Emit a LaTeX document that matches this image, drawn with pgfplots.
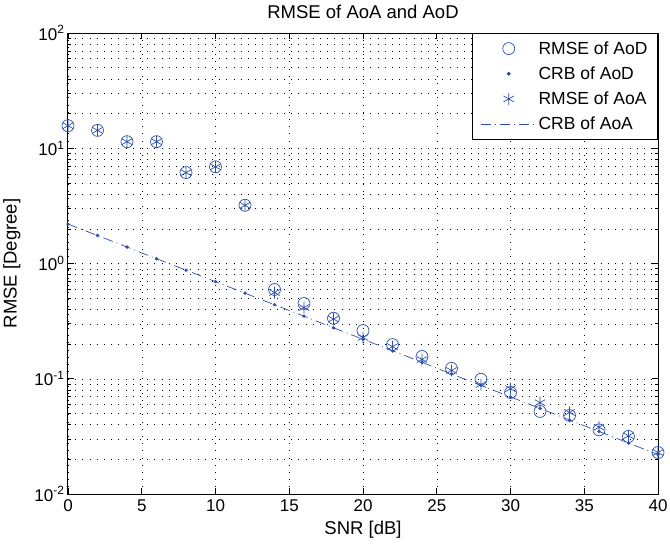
\documentclass[border=0pt]{standalone}
\usepackage{fontspec}
\setmainfont{Liberation Sans}
\usepackage{pgfplots}
\pgfplotsset{compat=1.18}
\usepackage{pgfplotstable}

\definecolor{mblue}{RGB}{45,80,170}

% SNR, AoD RMSE, AoA RMSE, CRB
\pgfplotstableread{
snr  aod    aoa    crb
0    15.7   15.7   2.20
2    14.3   14.3   1.75
4    11.4   11.4   1.39
6    11.4   11.4   1.10
8    6.15   6.15   0.876
10   6.9    6.9    0.696
12   3.2    3.2    0.553
14   0.595  0.56   0.439
16   0.45   0.415  0.349
18   0.335  0.33   0.277
20   0.262  0.228  0.220
22   0.198  0.19   0.175
24   0.156  0.147  0.139
26   0.123  0.118  0.110
28   0.099  0.089  0.0876
30   0.076  0.082  0.0696
32   0.052  0.062  0.0553
34   0.048  0.051  0.0439
36   0.036  0.038  0.0349
38   0.0316 0.032  0.0277
40   0.0229 0.0229 0.0220
}\datatable

\begin{document}
\begin{tikzpicture}
\begin{axis}[
    scale only axis,
    width=590pt, height=461pt,
    ymode=log,
    xmin=0, xmax=40, ymin=0.01, ymax=100,
    xtick={0,5,...,40},
    ytick={0.01,0.1,1,10,100},
    yticklabels={10\textsuperscript{-2},10\textsuperscript{-1},10\textsuperscript{0},10\textsuperscript{1},10\textsuperscript{2}},
    /pgf/number format/assume math mode=true,
    tick label style={font=\fontsize{17}{19}\selectfont},
    xticklabel style={yshift=-2pt},
    label style={font=\fontsize{18.5}{20}\selectfont},
    every axis title shift=0pt,
    title style={font=\fontsize{18.5}{20}\selectfont, at={(axis description cs:0.5,1.045)}, anchor=center},
    xlabel style={at={(axis description cs:0.5,-0.078)}, anchor=center},
    ylabel style={at={(axis description cs:-0.095,0.5)}, anchor=center},
    title={RMSE of AoA and AoD},
    xlabel={SNR [dB]},
    ylabel={RMSE [Degree]},
    axis line style={black, line width=1pt},
    major tick length=6pt, minor tick length=3pt,
    tick style={black, line width=0.6pt},
    xmajorgrids, ymajorgrids, yminorgrids,
    grid style={black, line width=0.5pt, dash pattern=on 0.5pt off 6.7pt},
    minor grid style={black, line width=0.5pt, dash pattern=on 0.5pt off 6.7pt},
    legend image code/.code={\draw[#1, mark repeat=2, mark phase=2] plot coordinates {(0pt,0pt) (27.5pt,0pt) (55pt,0pt)};},
    legend style={at={(1,1)}, anchor=north east, draw=black, line width=1pt,
        font=\fontsize{17.5}{19}\selectfont, row sep=7pt, inner xsep=8pt, inner ysep=6pt,
        cells={anchor=west}, fill=white},
    legend cell align=left,
]
\addplot[mblue, only marks, mark=o, mark size=6pt, line width=0.7pt] table[x=snr, y=aod] {\datatable};
\addlegendentry{RMSE of AoD}
\addplot[mblue, only marks, mark=*, mark size=1.5pt] table[x=snr, y=crb] {\datatable};
\addlegendentry{CRB of AoD}
\addplot[mblue, only marks, mark=asterisk, mark size=6pt, line width=0.7pt] table[x=snr, y=aoa] {\datatable};
\addlegendentry{RMSE of AoA}
\addplot[mblue, no marks, line width=0.7pt, dash pattern=on 10pt off 4pt on 1pt off 4pt] table[x=snr, y=crb] {\datatable};
\addlegendentry{CRB of AoA}
\end{axis}
\pgfresetboundingbox
\path ([shift={(-68pt,-49pt)}]current axis.south west) rectangle ([shift={(12pt,33pt)}]current axis.north east);
\end{tikzpicture}
\end{document}
